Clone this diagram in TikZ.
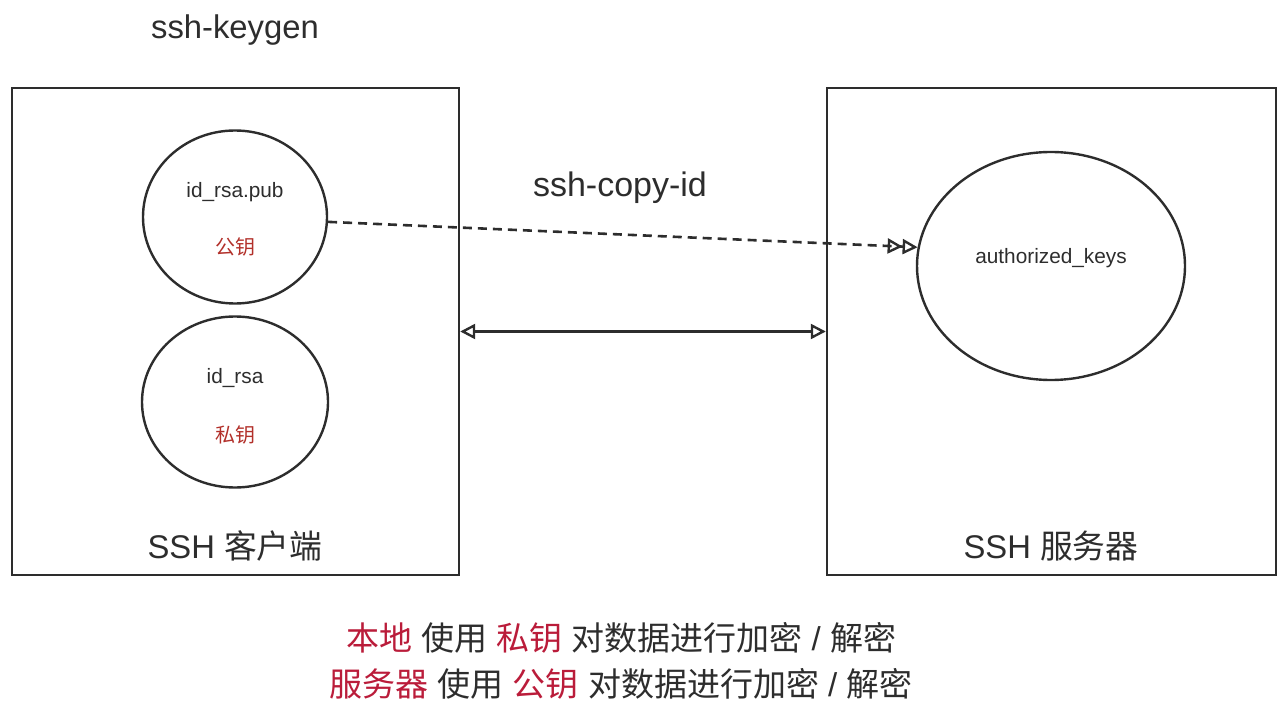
\documentclass[tikz,border=0pt]{standalone}
\usepackage{fontspec}
\setmainfont{Liberation Sans}
\newfontfamily\cjk{Noto Sans CJK SC}
\usetikzlibrary{shapes.geometric,arrows.meta}
\definecolor{inkgray}{RGB}{45,45,45}
\definecolor{keyred}{RGB}{178,48,42}
\definecolor{notered}{RGB}{186,28,58}
\tikzset{
  hostbox/.style={draw=inkgray, line width=1.2pt, minimum height=243.5pt, inner sep=0pt},
  keyfile/.style={draw=inkgray, line width=1.2pt, ellipse, inner sep=0pt},
  fname/.style={text=inkgray, font=\fontsize{10.4pt}{12pt}\selectfont},
  keyname/.style={text=keyred, font=\cjk\fontsize{10pt}{12pt}\selectfont},
  cmdname/.style={text=inkgray, font=\fontsize{16.4pt}{19pt}\selectfont},
  notetext/.style={text=inkgray, font=\fontsize{16.5pt}{20pt}\selectfont},
  opentip/.tip={Triangle[open, length=7.5pt, width=7.5pt, line width=1.2pt]}
}
\begin{document}
\begin{tikzpicture}[x=0.5pt, y=-0.5pt]
  \useasboundingbox (0,0) rectangle (1288,716);
  % hosts
  \node[hostbox, minimum width=223.5pt] (client) at (235.5,331.5) {};
  \node[hostbox, minimum width=224.5pt] (server) at (1051.5,331.5) {};
  \node[cmdname] (clientname) at (235,546) {SSH {\cjk 客户端}};
  \node[cmdname] (servername) at (1051,546) {SSH {\cjk 服务器}};
  % key files
  \node[keyfile, minimum width=92pt, minimum height=86.5pt] (pub) at (235,217) {};
  \node[keyfile, minimum width=93pt, minimum height=85.5pt] (priv) at (235,402) {};
  \node[keyfile, minimum width=134pt, minimum height=114pt] (auth) at (1051,266) {};
  \node[fname] (publabel) at (235,192) {id\_rsa.pub};
  \node[keyname] (pubkey) at (235,247) {公钥};
  \node[fname] (privlabel) at (235,378) {id\_rsa};
  \node[keyname] (privkey) at (235,435) {私钥};
  \node[fname] (authlabel) at (1051,258) {authorized\_keys};
  % commands
  \node[cmdname] (keygen) at (235,30) {ssh-keygen};
  \node[cmdname, font=\fontsize{17pt}{20pt}\selectfont] (copyid) at (620,188) {ssh-copy-id};
  % connectors
  \draw[inkgray, line width=1.3pt, dash pattern=on 4.5pt off 3pt, -{opentip[sep=0pt] opentip}] (pub.-3) -- (auth.172);
  \draw[inkgray, line width=1.3pt, {opentip}-{opentip}] (client.east) -- (server.west);
  % notes
  \node[notetext] (note1) at (621,638) {{\cjk\color{notered}本地} {\cjk 使用} {\cjk\color{notered}私钥} {\cjk 对数据进行加密} / {\cjk 解密}};
  \node[notetext] (note2) at (621,684) {{\cjk\color{notered}服务器} {\cjk 使用} {\cjk\color{notered}公钥} {\cjk 对数据进行加密} / {\cjk 解密}};
\end{tikzpicture}
\end{document}
